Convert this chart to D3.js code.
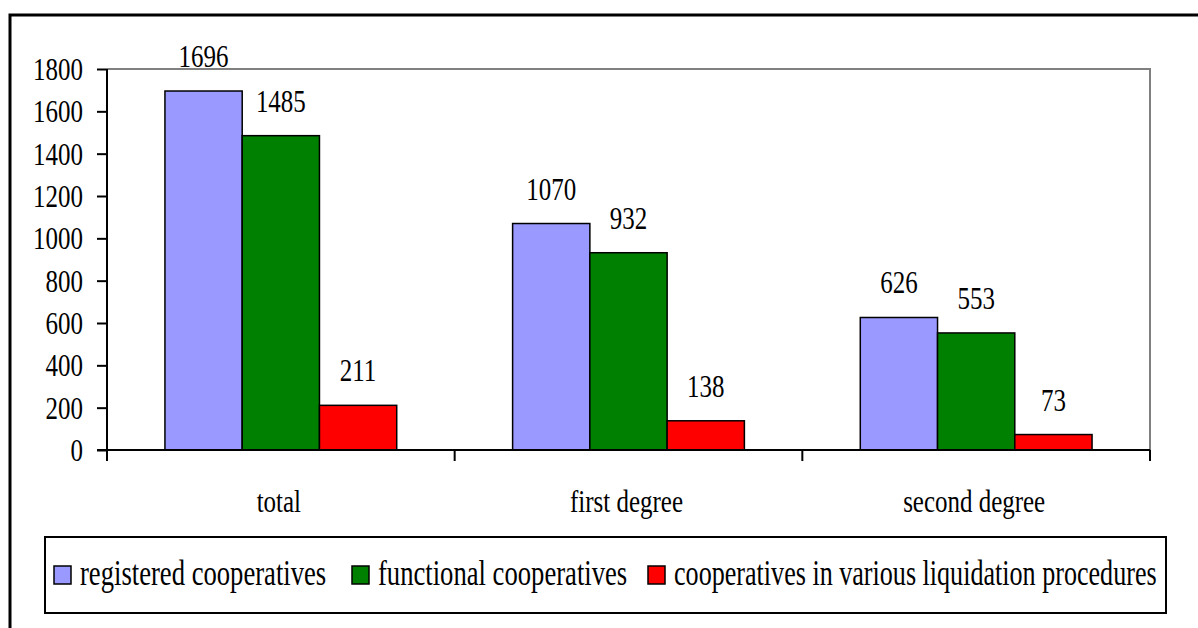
<!DOCTYPE html>
<html>
<head>
<meta charset="utf-8">
<script src="https://cdn.jsdelivr.net/npm/d3@7"></script>
<style>
  html, body { margin: 0; padding: 0; background: #fff; overflow: hidden; }
</style>
</head>
<body>
<div id="chart"></div>
<script>
/* cooperatives bar chart — grouped bars, Excel-ish look */

var categories = ['total', 'first degree', 'second degree'];
var seriesNames = ['registered cooperatives', 'functional cooperatives',
                   'cooperatives in various liquidation procedures'];
var registered = [1696, 1070, 626];
var functional = [1485, 932, 553];
var liquidation = [211, 138, 73];
var yTicks = [0, 200, 400, 600, 800, 1000, 1200, 1400, 1600, 1800];

var colors = ['#9999ff', '#008000', '#ff0000'];

(function drawChart() {
  var W = 1198, H = 628;
  var svg = d3.select('#chart').append('svg')
    .attr('width', W).attr('height', H);

  var SX = 0.78;   /* the source fonts are squeezed horizontally */
  var FONT = "'Liberation Serif', 'DejaVu Serif', serif";

  function stext(x, y, str, size, anchor, sx) {
    var g = svg.append('g')
      .attr('transform', 'translate(' + x + ',' + y + ') scale(' + (sx || SX) + ',1)');
    return g.append('text')
      .attr('text-anchor', anchor || 'middle')
      .attr('font-family', FONT)
      .attr('font-size', size)
      .attr('fill', '#000')
      .text(str);
  }

  /* outer frame (runs off the right / bottom edge) */
  svg.append('rect')
    .attr('x', 10).attr('y', 15)
    .attr('width', W + 40).attr('height', H + 40)
    .attr('fill', 'none').attr('stroke', '#000').attr('stroke-width', 3);

  var left = 107, right = 1150, top = 69, bottom = 450;

  var x0 = d3.scaleBand().domain(categories).range([left, right]).padding(0);
  var x1 = d3.scaleBand().domain(d3.range(3)).range([0, x0.bandwidth()])
    .paddingInner(0).paddingOuter(0.75);
  var y = d3.scaleLinear().domain([0, 1800]).range([bottom, top]);

  /* plot frame: grey top and right */
  svg.append('path')
    .attr('d', 'M' + left + ',' + top + 'H' + right + 'V' + bottom)
    .attr('fill', 'none').attr('stroke', '#808080').attr('stroke-width', 2);

  var series = [registered, functional, liquidation];

  categories.forEach(function (c, ci) {
    series.forEach(function (vals, si) {
      var bx = x0(c) + x1(si);
      svg.append('rect')
        .attr('x', bx).attr('y', y(vals[ci]))
        .attr('width', x1.bandwidth()).attr('height', bottom - y(vals[ci]))
        .attr('fill', colors[si]).attr('stroke', '#000').attr('stroke-width', 1.5);
      stext(bx + x1.bandwidth() / 2, y(vals[ci]) - 24, vals[ci], 32, 'middle');
    });
  });

  /* y axis */
  var yAxis = d3.axisLeft(y).tickValues(yTicks).tickSize(10).tickFormat('');
  var ya = svg.append('g').attr('transform', 'translate(' + left + ',0)').call(yAxis);
  ya.select('.domain').attr('stroke', '#000').attr('stroke-width', 2)
    .attr('d', 'M0,' + top + 'V' + (bottom + 11));
  ya.selectAll('.tick line').attr('stroke', '#000').attr('stroke-width', 2);
  yTicks.forEach(function (t) {
    stext(83, y(t) + 11, t, 32, 'end');
  });

  /* x axis, ticks on the category boundaries */
  var bounds = categories.map(function (c) { return x0(c); }).concat([right]);
  svg.append('line')
    .attr('x1', left - 10).attr('x2', right)
    .attr('y1', bottom).attr('y2', bottom)
    .attr('stroke', '#000').attr('stroke-width', 2);
  bounds.forEach(function (bx) {
    svg.append('line')
      .attr('x1', bx).attr('x2', bx).attr('y1', bottom).attr('y2', bottom + 11)
      .attr('stroke', '#000').attr('stroke-width', 2);
  });
  categories.forEach(function (c) {
    stext(x0(c) + x0.bandwidth() / 2 - 2, 512, c, 32, 'middle');
  });

  /* legend */
  svg.append('rect')
    .attr('x', 45).attr('y', 537).attr('width', 1121).attr('height', 76)
    .attr('fill', '#fff').attr('stroke', '#000').attr('stroke-width', 2);
  var legendX = [54, 352, 648];   /* swatch positions as in the source */
  seriesNames.forEach(function (name, i) {
    var lx = legendX[i];
    svg.append('rect')
      .attr('x', lx).attr('y', 566).attr('width', 17).attr('height', 18)
      .attr('fill', colors[i]).attr('stroke', '#000').attr('stroke-width', 1.5);
    stext(lx + 26, 585, name, 36, 'start', i === 2 ? 0.725 : 0.74);
  });
}());
</script>
</body>
</html>
